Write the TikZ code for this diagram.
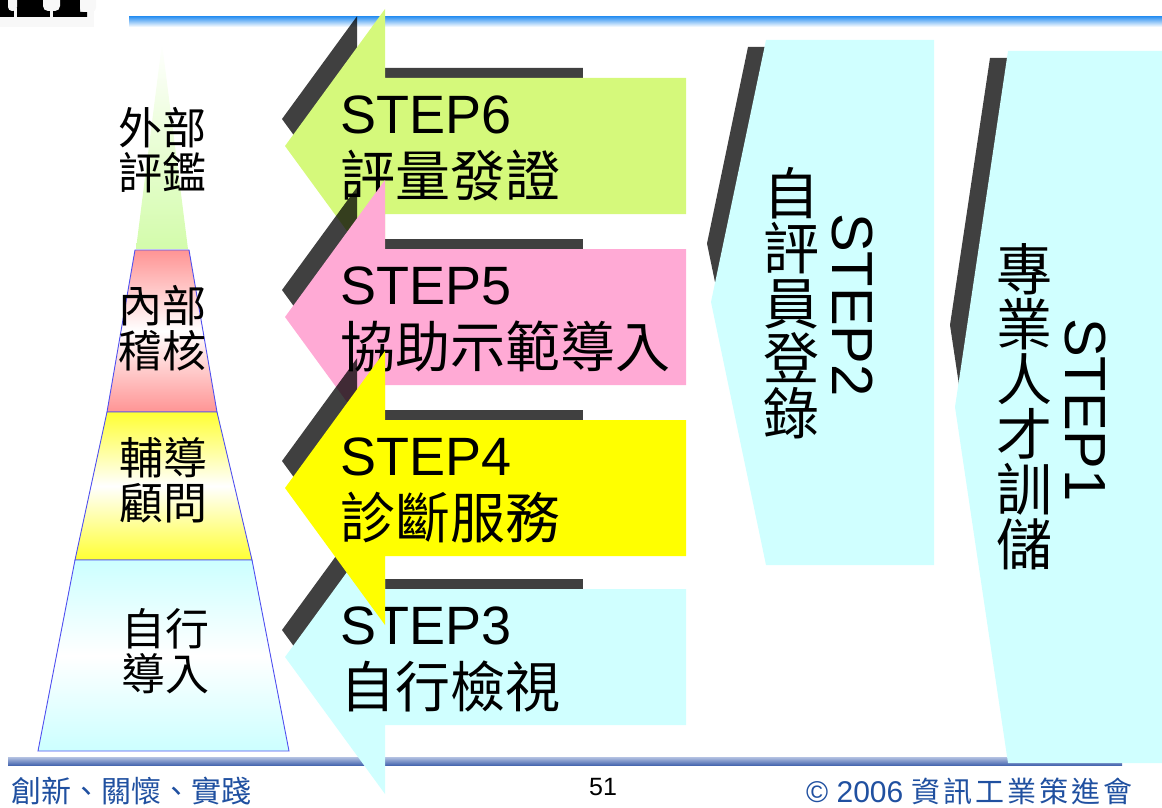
\documentclass[tikz,border=0pt]{standalone}
\usepackage{fontspec}
\setmainfont{Liberation Sans}
\newfontfamily\cjk{Noto Sans CJK TC}
\newfontfamily\cjkwide[LetterSpace=10]{Noto Sans CJK TC}
\usetikzlibrary{positioning}

\definecolor{stepgreen}{HTML}{D5F97B}
\definecolor{steppink}{HTML}{FFAAD5}
\definecolor{stepyellow}{HTML}{FFFF00}
\definecolor{stepcyan}{HTML}{D0FFFF}
\definecolor{pyrgreen}{HTML}{D3FCAB}
\definecolor{pyrpink}{HTML}{FF9494}
\definecolor{pyryellow}{HTML}{FFFF33}
\definecolor{pyrcyan}{HTML}{CCFFFF}
\definecolor{pyrline}{HTML}{4F4FF0}
\definecolor{headblue}{HTML}{3796F2}
\definecolor{footblue}{HTML}{2050A0}
\definecolor{footlight}{HTML}{B4C2E2}
\definecolor{footdark}{HTML}{4868B0}
\definecolor{titlebg}{HTML}{F8F8F8}

% one left-pointing step arrow, tip at the origin
\newcommand{\arrowpath}{(0,0) -- (100,-137) -- (100,-68) -- (401,-68) -- (401,68) -- (100,68) -- (100,137) -- cycle}

\begin{document}
\begin{tikzpicture}[x=1pt, y=-1pt,
    stepshadow/.style={fill=black, fill opacity=0.75},
    steptag/.style={font=\fontsize{54}{60}\selectfont, inner sep=0pt, anchor=base west},
    stepname/.style={font=\cjk\fontsize{55}{60}\selectfont, inner sep=0pt, anchor=base west},
    sidetag/.style={font=\fontsize{58}{60}\selectfont, inner sep=0pt, rotate=-90},
    sidename/.style={font=\cjk\fontsize{56}{55}\selectfont, inner sep=0pt, align=center},
    pyrlayer/.style={draw=pyrline, line width=0.9pt, top color=#1, bottom color=#1, middle color=white},
    pyrtext/.style={font=\cjk\fontsize{44}{45}\selectfont, inner sep=0pt, align=center},
    foot/.style={text=footblue, inner sep=0pt}]

    \useasboundingbox (0,0) rectangle (1162,808);
    \clip (0,0) rectangle (1162,808);

    % cut title and rules
    \fill[titlebg] (0,0) rectangle (94,27);
    \fill[black] (0,0) rectangle (80,13) (0,12) rectangle (87,17);
    \fill[titlebg, rounded corners=4pt] (8,-6) rectangle (17,11);
    \fill[titlebg] (14,8) rectangle (17,17);
    \fill[titlebg, rounded corners=5pt] (43,-6) rectangle (60,11);
    \fill[titlebg] (50,8) rectangle (53,17);
    \fill[titlebg, rounded corners=4pt] (80,-6) rectangle (96,12);
    \shade[top color=headblue, bottom color=white] (129,17) rectangle (1162,27);
    \shade[top color=footlight, bottom color=footdark] (8,757) rectangle (1122,765);

    % pyramid
    \shade[top color=white, bottom color=pyrgreen] (162,43) -- (188,249) -- (136,249) -- cycle;
    \shadedraw[pyrlayer=pyrpink] (135,250) -- (189,250) -- (217,412) -- (107,412) -- cycle;
    \shadedraw[pyrlayer=pyryellow] (107,412) -- (217,412) -- (252,560) -- (75,560) -- cycle;
    \shadedraw[pyrlayer=pyrcyan] (75,560) -- (252,560) -- (289,751) -- (38,751) -- cycle;
    \node[pyrtext] (outer) at (162,150) {外部\\評鑑};
    \node[pyrtext] (audit) at (162,328) {內部\\稽核};
    \node[pyrtext] (coach) at (163,480) {輔導\\顧問};
    \node[pyrtext] (self)  at (165,651) {自行\\導入};

    % STEP1 and STEP2
    \fill[stepshadow] (990,58) -- (1134,58) -- (1134,592) -- (990,592) -- (950,325) -- cycle;
    \fill[stepcyan] (1008,51) -- (1170,51) -- (1170,763) -- (1008,763) -- (955,407) -- cycle;
    \node[sidetag] (tag1) at (1085,410) {STEP1};
    \node[sidename] (name1) at (1024,407) {專\\業\\人\\才\\訓\\儲};

    \fill[stepshadow] (748,47) -- (874,47) -- (874,441) -- (748,441) -- (707,243.5) -- cycle;
    \fill[stepcyan] (766,40) -- (934,40) -- (934,565) -- (766,565) -- (711,302) -- cycle;
    \node[sidetag] (tag2) at (852,305) {STEP2};
    \node[sidename] (name2) at (791,303) {自\\評\\員\\登\\錄};

    % STEP3 to STEP6
    \foreach \n/\tip/\col/\what in {3/657/stepcyan/自行檢視, 6/146/stepgreen/評量發證,
                                    5/317/steppink/協助示範導入, 4/488/stepyellow/診斷服務}{
        \begin{scope}[shift={(285,\tip)}]
            \fill[stepshadow, shift={(-3,-27)}, scale=0.75] \arrowpath;
            \fill[\col] \arrowpath;
            \node[steptag] (tag\n) at (55,-13) {STEP\n};
            \node[stepname] (name\n) at (55,50) {\what};
        \end{scope}
    }

    % footer
    \node[foot, font=\cjk\fontsize{30}{30}\selectfont, anchor=west] (motto) at (11,791) {創新、關懷、實踐};
    \node[font=\fontsize{25}{25}\selectfont, inner sep=0pt, anchor=base west] (page) at (589,795) {51};
    \node[foot, anchor=west] (copy) at (806,791)
        {\fontsize{30}{30}\selectfont ©~2006 {\cjkwide\fontsize{29}{30}\selectfont 資訊工業策進會}};
\end{tikzpicture}
\end{document}
